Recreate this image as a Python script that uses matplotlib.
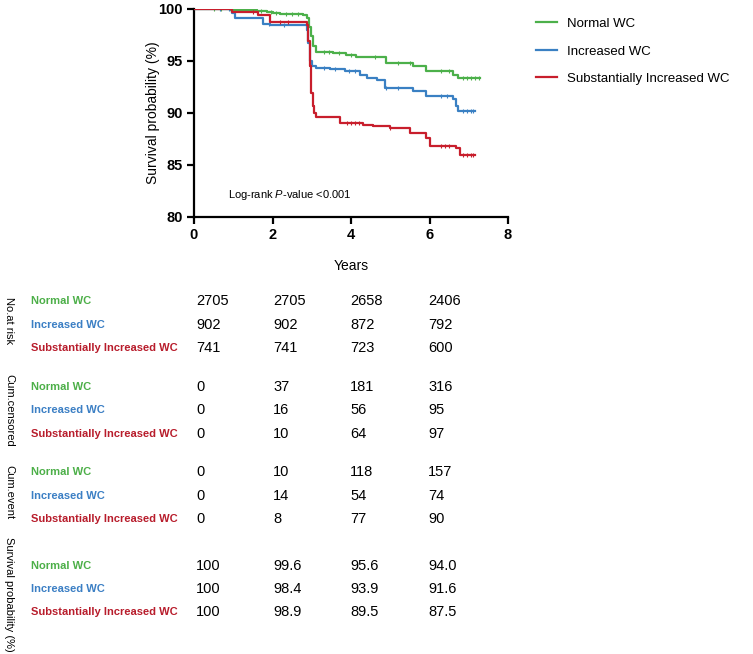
import numpy as np
import matplotlib
matplotlib.use("Agg")
import matplotlib.pyplot as plt

plt.rcParams['font.family'] = ['Liberation Sans', 'DejaVu Sans']
plt.rcParams['mathtext.fontset'] = 'custom'
plt.rcParams['mathtext.rm'] = 'Liberation Sans'
plt.rcParams['mathtext.it'] = 'Liberation Sans:italic'

# ---- data ----
groups = ["Normal WC", "Increased WC", "Substantially Increased WC"]
colors = ["#4cb04a", "#3a80c3", "#c81e2c"]
label_colors = ["#4caf48", "#3b7fc4", "#b81d2c"]

g_t = [0, 0.92, 1.6, 1.85, 2.0, 2.2, 2.78, 2.87, 2.93, 2.99, 3.04, 3.12, 3.55, 3.88, 4.14, 4.9, 5.58, 5.92, 6.6, 6.73]
g_s = [100, 99.95, 99.8, 99.7, 99.6, 99.5, 99.4, 99.1, 98.3, 97.4, 96.4, 95.9, 95.75, 95.6, 95.4, 94.85, 94.5, 94.0, 93.7, 93.35]
g_end = 7.28
g_cens = [0.5, 0.7, 0.95, 1.05, 1.15, 1.3, 1.45, 1.7, 1.95, 2.1, 2.35, 2.5, 2.65, 3.3, 3.45, 3.7, 4.0, 4.6, 5.2, 5.5, 6.3, 6.5, 6.85, 6.95, 7.05, 7.15, 7.25]

b_t = [0, 0.96, 1.04, 1.76, 1.93, 2.87, 2.91, 2.95, 3.0, 3.1, 3.47, 3.85, 4.22, 4.42, 4.65, 4.86, 5.58, 5.92, 6.6, 6.68, 6.73]
b_s = [100, 99.6, 99.1, 98.6, 98.45, 98.0, 96.7, 95.0, 94.5, 94.3, 94.2, 94.0, 93.7, 93.4, 93.2, 92.4, 92.1, 91.6, 91.3, 90.7, 90.15]
b_end = 7.15
b_cens = [0.65, 0.9, 1.9, 2.3, 3.3, 3.6, 3.95, 4.1, 4.9, 5.2, 6.3, 6.45, 6.85, 6.95, 7.05, 7.12]

r_t = [0, 0.96, 1.64, 1.93, 2.87, 2.91, 2.96, 2.99, 3.02, 3.06, 3.12, 3.71, 4.3, 4.56, 4.99, 5.5, 5.92, 6.0, 6.68, 6.77]
r_s = [100, 99.7, 99.4, 98.75, 98.5, 96.9, 94.5, 91.9, 90.7, 90.0, 89.65, 89.05, 88.85, 88.75, 88.55, 88.05, 87.6, 86.85, 86.65, 86.0]
r_end = 7.15
r_cens = [1.5, 2.2, 2.4, 3.9, 4.0, 4.1, 4.2, 5.0, 6.3, 6.4, 6.5, 6.85, 6.95, 7.05, 7.12]

curves = [(g_t, g_s, g_end, g_cens), (b_t, b_s, b_end, b_cens), (r_t, r_s, r_end, r_cens)]

table_times = [0, 2, 4, 6]
at_risk = [[2705, 2705, 2658, 2406], [902, 902, 872, 792], [741, 741, 723, 600]]
cum_censored = [[0, 37, 181, 316], [0, 16, 56, 95], [0, 10, 64, 97]]
cum_event = [[0, 10, 118, 157], [0, 14, 54, 74], [0, 8, 77, 90]]
surv_prob = [["100", "99.6", "95.6", "94.0"], ["100", "98.4", "93.9", "91.6"], ["100", "98.9", "89.5", "87.5"]]
section_titles = ["No.at risk", "Cum.censored", "Cum.event", "Survival probability (%)"]

# ---- figure ----
W, H = 753, 654
fig = plt.figure(figsize=(W / 100, H / 100), dpi=100)
ax = fig.add_axes([194 / W, 1 - 217 / H, (508 - 194) / W, (217 - 9) / H])

for (t, s, end, cens), c, name in zip(curves, colors, groups):
    tt = list(t) + [end]
    ss = list(s) + [s[-1]]
    ax.step(tt, ss, where='post', color=c, lw=1.6, label=name, zorder=3)
    ct = np.array(cens)
    idx = np.searchsorted(np.array(t), ct, side='right') - 1
    cy = np.array(s)[idx]
    ax.plot(ct, cy, ls='none', marker='|', ms=2.5, mew=0.8, color=c, zorder=3)

ax.set_xlim(0, 8)
ax.set_ylim(80, 100)
ax.set_xticks([0, 2, 4, 6, 8])
ax.set_yticks([80, 85, 90, 95, 100])
for sp in ['top', 'right']:
    ax.spines[sp].set_visible(False)
for sp in ['left', 'bottom']:
    ax.spines[sp].set_linewidth(1.6)
ax.tick_params(direction='out', length=5, width=1.6, labelsize=10.5, pad=3)
for lab in ax.get_xticklabels() + ax.get_yticklabels():
    lab.set_fontweight('bold')
ax.set_xlabel("Years", fontsize=10, labelpad=12)
ax.set_ylabel("Survival probability (%)", fontsize=10, labelpad=-1)
ax.text(0.87, 82.1, r"Log-rank $\mathit{P}$-value <0.001", fontsize=8, va='center', ha='left')

fig.legend(loc='upper left', bbox_to_anchor=(524 / W, 1 - 6 / H), frameon=False,
           fontsize=9.5, handlelength=1.6, labelspacing=1.15, handletextpad=0.75)

# ---- tables ----
def fx(px):
    return px / W

def fy(py):
    return 1 - py / H

row_y = [[301, 325, 348], [387, 410, 434], [472, 496, 519], [566, 589, 612]]
title_y = [321, 410, 492, 594]
col_x = [196, 273, 350, 428]
tables = [at_risk, cum_censored, cum_event, surv_prob]

for k, tab in enumerate(tables):
    fig.text(fx(9), fy(title_y[k]), section_titles[k], rotation=-90, ha='center', va='center', fontsize=8)
    for i in range(3):
        y = fy(row_y[k][i])
        fig.text(fx(31), y, groups[i], color=label_colors[i], fontweight='bold', fontsize=8, ha='left', va='center')
        for j in range(len(table_times)):
            fig.text(fx(col_x[j]), y, str(tab[i][j]), fontsize=10.5, ha='left', va='center')

fig.savefig("out.png", dpi=100)
